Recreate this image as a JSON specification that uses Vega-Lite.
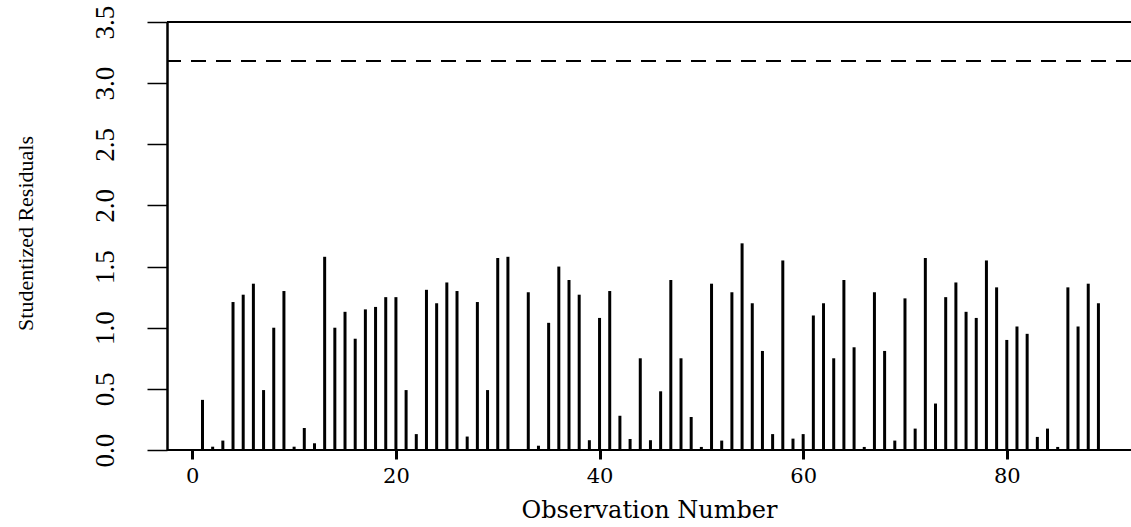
{
  "$schema": "https://vega.github.io/schema/vega-lite/v6.json",
  "autosize": "none",
  "width": 964,
  "height": 428,
  "padding": {"left": 167, "top": 22, "right": 0, "bottom": 77},
  "background": "white",
  "config": {"view": {"stroke": null}},
  "data": {"values": [
    {"obs":1,"res":0.41},{"obs":2,"res":0.027},{"obs":3,"res":0.077},{"obs":4,"res":1.21},{"obs":5,"res":1.27},
    {"obs":6,"res":1.36},{"obs":7,"res":0.49},{"obs":8,"res":1.00},{"obs":9,"res":1.30},{"obs":10,"res":0.027},
    {"obs":11,"res":0.18},{"obs":12,"res":0.055},{"obs":13,"res":1.58},{"obs":14,"res":1.00},{"obs":15,"res":1.13},
    {"obs":16,"res":0.91},{"obs":17,"res":1.15},{"obs":18,"res":1.17},{"obs":19,"res":1.25},{"obs":20,"res":1.25},
    {"obs":21,"res":0.49},{"obs":22,"res":0.13},{"obs":23,"res":1.31},{"obs":24,"res":1.20},{"obs":25,"res":1.37},
    {"obs":26,"res":1.30},{"obs":27,"res":0.11},{"obs":28,"res":1.21},{"obs":29,"res":0.49},{"obs":30,"res":1.57},
    {"obs":31,"res":1.58},{"obs":32,"res":0.008},{"obs":33,"res":1.29},{"obs":34,"res":0.035},{"obs":35,"res":1.04},
    {"obs":36,"res":1.50},{"obs":37,"res":1.39},{"obs":38,"res":1.27},{"obs":39,"res":0.08},{"obs":40,"res":1.08},
    {"obs":41,"res":1.30},{"obs":42,"res":0.28},{"obs":43,"res":0.09},{"obs":44,"res":0.75},{"obs":45,"res":0.08},
    {"obs":46,"res":0.48},{"obs":47,"res":1.39},{"obs":48,"res":0.75},{"obs":49,"res":0.27},{"obs":50,"res":0.025},
    {"obs":51,"res":1.36},{"obs":52,"res":0.077},{"obs":53,"res":1.29},{"obs":54,"res":1.69},{"obs":55,"res":1.20},
    {"obs":56,"res":0.81},{"obs":57,"res":0.13},{"obs":58,"res":1.55},{"obs":59,"res":0.093},{"obs":60,"res":0.13},
    {"obs":61,"res":1.10},{"obs":62,"res":1.20},{"obs":63,"res":0.75},{"obs":64,"res":1.39},{"obs":65,"res":0.84},
    {"obs":66,"res":0.025},{"obs":67,"res":1.29},{"obs":68,"res":0.81},{"obs":69,"res":0.077},{"obs":70,"res":1.24},
    {"obs":71,"res":0.175},{"obs":72,"res":1.57},{"obs":73,"res":0.38},{"obs":74,"res":1.25},{"obs":75,"res":1.37},
    {"obs":76,"res":1.13},{"obs":77,"res":1.08},{"obs":78,"res":1.55},{"obs":79,"res":1.33},{"obs":80,"res":0.90},
    {"obs":81,"res":1.01},{"obs":82,"res":0.95},{"obs":83,"res":0.107},{"obs":84,"res":0.175},{"obs":85,"res":0.025},
    {"obs":86,"res":1.33},{"obs":87,"res":1.01},{"obs":88,"res":1.36},{"obs":89,"res":1.20}
  ]},
  "layer": [
    {
      "mark": {"type": "rule", "color": "black", "strokeWidth": 3},
      "encoding": {
        "x": {"field": "obs", "type": "quantitative",
          "scale": {"domain": [-2.485, 92.2], "nice": false, "zero": false},
          "axis": {"values": [0, 20, 40, 60, 80], "domain": false, "grid": false,
            "tickColor": "black", "tickSize": 9, "tickWidth": 3,
            "labelFont": "DejaVu Serif", "labelFontSize": 21, "labelColor": "black", "labelPadding": 6,
            "title": "Observation Number", "titleFont": "DejaVu Serif", "titleFontSize": 24,
            "titleFontWeight": "normal", "titleColor": "black", "titlePadding": 12}},
        "y": {"field": "res", "type": "quantitative",
          "scale": {"domain": [0, 3.5], "nice": false, "zero": false},
          "axis": {"values": [0, 0.5, 1, 1.5, 2, 2.5, 3, 3.5], "format": ".1f", "grid": false,
            "domain": true, "domainColor": "black", "domainWidth": 2.5,
            "tickColor": "black", "tickSize": 20, "tickWidth": 1.5,
            "labelAngle": 270, "labelAlign": "center", "labelBaseline": "bottom",
            "labelFont": "Liberation Serif", "labelFontSize": 27, "labelColor": "black", "labelPadding": 28,
            "title": "Studentized Residuals", "titleFont": "Liberation Serif", "titleFontSize": 22,
            "titleFontWeight": "normal", "titleColor": "black", "titleAngle": 270,
            "titleX": -142, "titleY": 211, "titleAlign": "center", "titleBaseline": "middle"}},
        "y2": {"datum": 0}
      }
    },
    {
      "mark": {"type": "rule", "color": "black", "strokeWidth": 1.5},
      "encoding": {"y": {"datum": 0}}
    },
    {
      "mark": {"type": "rule", "color": "black", "strokeWidth": 1.5},
      "encoding": {"y": {"datum": 3.5}}
    },
    {
      "mark": {"type": "rule", "color": "black", "strokeWidth": 1.5, "strokeDash": [15, 10]},
      "encoding": {"y": {"datum": 3.18}}
    }
  ]
}
